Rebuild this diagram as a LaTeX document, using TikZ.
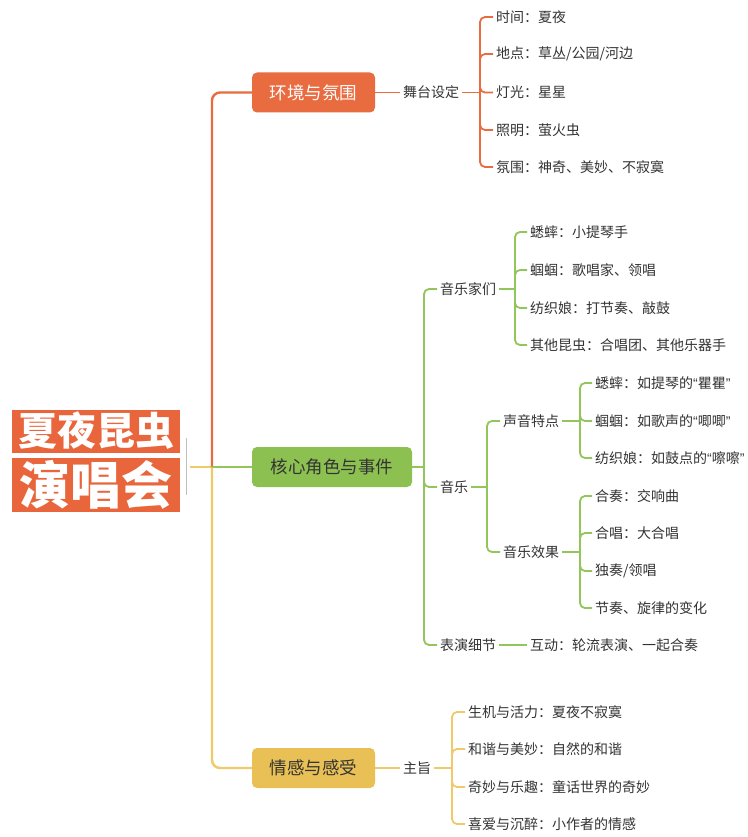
\documentclass[tikz,border=0pt]{standalone}
\usepackage{fontspec}
\setmainfont{Noto Sans CJK SC}
\newfontfamily\latq{Liberation Sans}
\newcommand{\myLq}{{\latq “}}
\newcommand{\myRq}{{\latq ”}}
\definecolor{orangec}{HTML}{E96B40}
\definecolor{rootc}{HTML}{E9663C}
\definecolor{greenc}{HTML}{8CC152}
\definecolor{greenl}{HTML}{92C65A}
\definecolor{yellowc}{HTML}{E9C055}
\definecolor{yellowl}{HTML}{EFC96A}
\definecolor{textc}{HTML}{333333}
\begin{document}
\begin{tikzpicture}[x=1pt,y=-1pt,
  leaf/.style={anchor=west, inner sep=3pt, text=textc, font=\fontsize{14}{16}\selectfont},
  mainbox/.style={rounded corners=5pt, minimum height=40pt, inner sep=0pt, font=\fontsize{17.5}{20}\selectfont},
  rootbox/.style={fill=rootc, text=white, inner sep=0pt, minimum width=168pt, font=\bfseries},
  oline/.style={draw=orangec, line width=2.4pt},
  gline/.style={draw=greenl, line width=2.2pt},
  yline/.style={draw=yellowl, line width=2.4pt},
  obr/.style={draw=orangec, line width=1.8pt, rounded corners=5pt},
  gbr/.style={draw=greenl, line width=1.8pt, rounded corners=5pt},
  ybr/.style={draw=yellowl, line width=1.8pt, rounded corners=5pt}]
\useasboundingbox (0,0) rectangle (747,837);
\fill[white] (0,0) rectangle (747,837);

% root
\node[rootbox, minimum height=43pt, font=\fontsize{39}{40}\bfseries\selectfont] (r1) at (96,431) {夏夜昆虫};
\node[rootbox, minimum height=54pt, font=\fontsize{51}{52}\bfseries\selectfont] (r2) at (96,485) {演唱会};
\coordinate (gt) at (186,438);
\coordinate (gb) at (186,495);
\draw[black!25, line width=0.8pt] (gt) -- (gb);
\coordinate (rc) at (190,467);
\coordinate (tr) at (212,467);

% main boxes
\node[mainbox, fill=orangec, text=white, minimum width=123pt] (env) at (313.5,92.5) {环境与氛围};
\node[mainbox, fill=greenc, text=textc, minimum width=160pt] (core) at (332,467) {核心角色与事件};
\node[mainbox, fill=yellowc, text=textc, minimum width=123pt] (emo) at (313.5,768) {情感与感受};

\draw[yline] (rc) -- (tr);
\draw[oline, rounded corners=8pt] (tr) |- (env.west);
\draw[yline, rounded corners=8pt] (tr) |- (emo.west);
\draw[gline] (tr) -- (core.west);

% environment branch
\node[leaf] (stage) at (400,92.5) {舞台设定};
\draw[oline, line width=1.8pt] (env.east) -- (stage.west);
\coordinate (b1) at (480,92.5);
\draw[obr] (stage.east) -- (b1);
\node[leaf] (e1) at (493,17) {时间：夏夜};
\node[leaf] (e2) at (493,54) {地点：草丛/公园/河边};
\node[leaf] (e3) at (493,92.5) {灯光：星星};
\node[leaf] (e4) at (493,130) {照明：萤火虫};
\node[leaf] (e5) at (493,167) {氛围：神奇、美妙、不寂寞};
\foreach \c in {e1,e2,e3,e4,e5} \draw[obr] (b1) |- (\c.west);

% core branch
\coordinate (b2) at (424,467);
\draw[gbr] (core.east) -- (b2);
\node[leaf] (m1) at (437,289) {音乐家们};
\node[leaf] (m2) at (437,487) {音乐};
\node[leaf] (m3) at (437,645) {表演细节};
\foreach \c in {m1,m2,m3} \draw[gbr] (b2) |- (\c.west);

\coordinate (b3) at (515,289);
\draw[gbr] (m1.east) -- (b3);
\node[leaf] (p1) at (527,232) {蟋蟀：小提琴手};
\node[leaf] (p2) at (527,270) {蝈蝈：歌唱家、领唱};
\node[leaf] (p3) at (527,308) {纺织娘：打节奏、敲鼓};
\node[leaf] (p4) at (527,345) {其他昆虫：合唱团、其他乐器手};
\foreach \c in {p1,p2,p3,p4} \draw[gbr] (b3) |- (\c.west);

\coordinate (b4) at (487,487);
\draw[gbr] (m2.east) -- (b4);
\node[leaf] (s1) at (500,421) {声音特点};
\node[leaf] (s2) at (500,552) {音乐效果};
\foreach \c in {s1,s2} \draw[gbr] (b4) |- (\c.west);

\coordinate (b5) at (580,421);
\draw[gbr] (s1.east) -- (b5);
\node[leaf] (t1) at (592,383) {蟋蟀：如提琴的\myLq 瞿瞿\myRq};
\node[leaf] (t2) at (592,421) {蝈蝈：如歌声的\myLq 唧唧\myRq};
\node[leaf] (t3) at (592,458) {纺织娘：如鼓点的\myLq 嚓嚓\myRq};
\foreach \c in {t1,t2,t3} \draw[gbr] (b5) |- (\c.west);

\coordinate (b6) at (580,552);
\draw[gbr] (s2.east) -- (b6);
\node[leaf] (u1) at (592,496) {合奏：交响曲};
\node[leaf] (u2) at (592,533) {合唱：大合唱};
\node[leaf] (u3) at (592,571) {独奏/领唱};
\node[leaf] (u4) at (592,608) {节奏、旋律的变化};
\foreach \c in {u1,u2,u3,u4} \draw[gbr] (b6) |- (\c.west);

\node[leaf] (i1) at (527,645) {互动：轮流表演、一起合奏};
\draw[gbr] (m3.east) -- (i1.west);

% emotion branch
\node[leaf] (theme) at (400,768) {主旨};
\draw[yline, line width=1.8pt] (emo.east) -- (theme.west);
\coordinate (b7) at (452,768);
\draw[ybr] (theme.east) -- (b7);
\node[leaf] (f1) at (465,712) {生机与活力：夏夜不寂寞};
\node[leaf] (f2) at (465,749) {和谐与美妙：自然的和谐};
\node[leaf] (f3) at (465,787) {奇妙与乐趣：童话世界的奇妙};
\node[leaf] (f4) at (465,824) {喜爱与沉醉：小作者的情感};
\foreach \c in {f1,f2,f3,f4} \draw[ybr] (b7) |- (\c.west);
\end{tikzpicture}
\end{document}
